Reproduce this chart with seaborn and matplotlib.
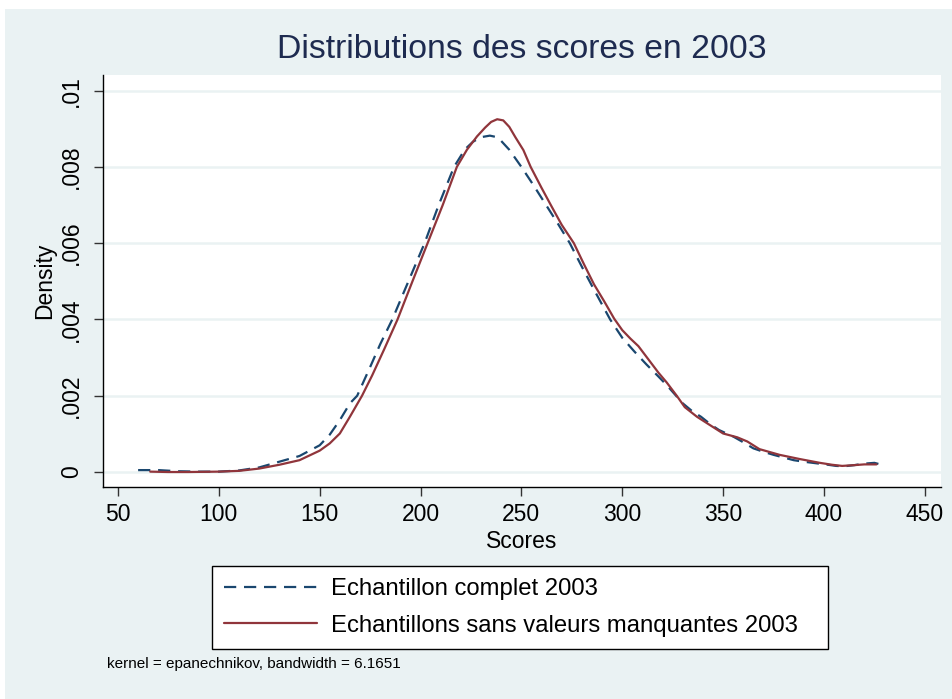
import matplotlib
matplotlib.use("Agg")
import matplotlib.pyplot as plt
from matplotlib.patches import Rectangle
import seaborn as sns
import pandas as pd

# ---- Data ----
scores_complet = [60, 70, 80, 90, 100, 110, 120, 130, 140, 150, 155, 160, 165, 168.6,
                  175, 180, 186, 194, 202, 209, 216.6, 222, 226, 230, 234.4, 237, 240,
                  244, 250, 256, 262, 268, 274, 280, 286, 294, 300, 306, 312, 318, 322,
                  326, 330, 335, 339, 344, 348, 355, 360, 365, 370, 375, 380, 385, 390,
                  396, 402, 406, 410, 415, 420, 425, 430]
density_complet = [0.00005, 0.00005, 0.00002, 0.00001, 0.00001, 0.00004, 0.00012, 0.00027,
                   0.00042, 0.00070, 0.00098, 0.00136, 0.00180, 0.00200, 0.00275, 0.00335,
                   0.00400, 0.00500, 0.00600, 0.00700, 0.00800, 0.00846, 0.00866, 0.00878,
                   0.00882, 0.00879, 0.00868, 0.00845, 0.00800, 0.00752, 0.00702, 0.00652,
                   0.00600, 0.00538, 0.00478, 0.00400, 0.00352, 0.00316, 0.00282, 0.00250,
                   0.00228, 0.00204, 0.00180, 0.00158, 0.00145, 0.00124, 0.00110, 0.00093,
                   0.00078, 0.00062, 0.00053, 0.00045, 0.00038, 0.00031, 0.00027, 0.00023,
                   0.00019, 0.00016, 0.00015, 0.00018, 0.00022, 0.00024, 0.00017]

scores_sans = [66, 75, 85, 100, 110, 120, 130, 140, 150, 155, 160, 165, 171, 176, 182,
               188.6, 196, 203.5, 211, 218, 223, 228, 232, 235, 238, 241, 244, 247, 251,
               254.6, 260, 265, 270, 276, 281, 286, 291, 296, 300, 304, 308, 313, 318,
               322, 327, 331, 337, 342, 350, 357, 362, 368, 378, 388, 398, 404, 409, 415,
               420, 426]
density_sans = [0.00001, 0.0, 0.0, 0.00001, 0.00003, 0.00009, 0.00019, 0.00031, 0.00056,
                0.00075, 0.00101, 0.00145, 0.00200, 0.00253, 0.00322, 0.00400, 0.00500,
                0.00600, 0.00700, 0.00800, 0.00845, 0.00880, 0.00903, 0.00918, 0.00925,
                0.00922, 0.00905, 0.00878, 0.00844, 0.00800, 0.00745, 0.00696, 0.00648,
                0.00600, 0.00545, 0.00492, 0.00448, 0.00402, 0.00372, 0.00350, 0.00330,
                0.00295, 0.00260, 0.00235, 0.00200, 0.00170, 0.00145, 0.00128, 0.00101,
                0.00091, 0.00080, 0.00060, 0.00045, 0.00034, 0.00024, 0.00019, 0.00016,
                0.00018, 0.00020, 0.00020]

label_complet = "Echantillon complet 2003"
label_sans = "Echantillons sans valeurs manquantes 2003"
x_ticks = [50, 100, 150, 200, 250, 300, 350, 400, 450]
y_ticks = [0, 0.002, 0.004, 0.006, 0.008, 0.01]
y_ticklabels = ["0", ".002", ".004", ".006", ".008", ".01"]
title = "Distributions des scores en 2003"
note = "kernel = epanechnikov, bandwidth = 6.1651"

# ---- Styling ----
sns.set_theme(style="white")
plt.rcParams["font.family"] = ["Liberation Sans", "DejaVu Sans"]

BG = "#EAF2F3"
BLUE = "#1A476F"
RED = "#90353B"

W, H = 952, 699
fig = plt.figure(figsize=(W / 100, H / 100), dpi=100)
fig.patch.set_facecolor("white")
fig.add_artist(Rectangle((5 / W, 0), 1, (H - 9) / H, transform=fig.transFigure,
                         facecolor=BG, edgecolor="none", zorder=-10))

left, right, top, bottom = 103, 941, 75, 487
ax = fig.add_axes([left / W, 1 - bottom / H, (right - left) / W, (bottom - top) / H])
ax.set_facecolor("white")

df_c = pd.DataFrame({"Scores": scores_complet, "Density": density_complet})
df_s = pd.DataFrame({"Scores": scores_sans, "Density": density_sans})

sns.lineplot(data=df_c, x="Scores", y="Density", ax=ax, color=BLUE, lw=1.6,
             linestyle="--", label=label_complet, sort=False, zorder=3)
sns.lineplot(data=df_s, x="Scores", y="Density", ax=ax, color=RED, lw=1.6,
             label=label_sans, sort=False, zorder=4)
ax.lines[0].set_dashes([5.5, 3.5])
for ln in ax.lines:
    ln.set_solid_joinstyle("round")
    ln.set_dash_joinstyle("round")

ax.set_xlim(42.6, 458)
ax.set_ylim(-0.000393, 0.01041)
ax.set_xticks(x_ticks)
ax.set_yticks(y_ticks)
ax.set_yticklabels(y_ticklabels)
ax.grid(axis="y", color=BG, lw=1.8)
ax.grid(axis="x", visible=False)
ax.set_axisbelow(True)

for s in ["top", "right"]:
    ax.spines[s].set_visible(False)
for s in ["left", "bottom"]:
    ax.spines[s].set_color("black")
    ax.spines[s].set_linewidth(1.0)

ax.tick_params(axis="both", which="major", length=6.5, width=1.0, color="#333333",
               labelsize=16.5, labelcolor="black", direction="out",
               bottom=True, left=True)
ax.tick_params(axis="y", pad=8)
ax.tick_params(axis="x", pad=5)
for lab in ax.get_yticklabels():
    lab.set_rotation(90)
    lab.set_va("center")
    lab.set_ha("right")

ax.set_xlabel("Scores", fontsize=16.5, color="black", labelpad=3)
ax.set_ylabel("Density", fontsize=16.5, color="black", labelpad=3)

fig.text((left + right) / 2 / W, 1 - 50 / H, title, ha="center", va="center",
         fontsize=24.3, color="#1E2B50")

leg_l, leg_r, leg_t, leg_b = 212, 828, 566, 643
leg = ax.legend(loc="upper left",
                bbox_to_anchor=(leg_l / W, 1 - leg_b / H, (leg_r - leg_l) / W,
                                (leg_b - leg_t) / H),
                bbox_transform=fig.transFigure, mode="expand", borderaxespad=0,
                fontsize=17.2, frameon=True, fancybox=False, edgecolor="black",
                facecolor="white", framealpha=1, handlelength=3.9, handletextpad=0.6,
                labelspacing=0.62, borderpad=0.5)
leg.get_frame().set_linewidth(1.0)
for t in leg.get_texts():
    t.set_color("black")

fig.text(107 / W, 1 - 664 / H, note, ha="left", va="center", fontsize=11,
         color="black")

fig.savefig("out.png", dpi=100, facecolor=fig.get_facecolor())
